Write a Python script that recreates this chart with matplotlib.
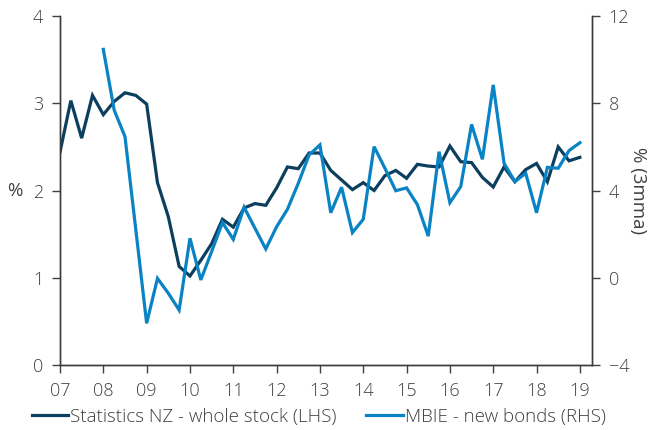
import matplotlib.pyplot as plt
import numpy as np

# Quarterly house price inflation, 2007Q1 - 2019Q1
years = [2007, 2008, 2009, 2010, 2011, 2012, 2013, 2014, 2015, 2016, 2017, 2018, 2019]
year_labels = ["07", "08", "09", "10", "11", "12", "13", "14", "15", "16", "17", "18", "19"]

stats_nz = [2.44, 3.03, 2.60, 3.09, 2.87, 3.02, 3.12, 3.09, 2.99, 2.09, 1.70, 1.13,
            1.02, 1.20, 1.39, 1.67, 1.58, 1.80, 1.85, 1.83, 2.03, 2.27, 2.25, 2.43,
            2.43, 2.23, 2.12, 2.01, 2.09, 2.00, 2.17, 2.23, 2.14, 2.30, 2.28, 2.27,
            2.51, 2.33, 2.32, 2.15, 2.04, 2.27, 2.10, 2.24, 2.31, 2.10, 2.50, 2.34,
            2.38]

# MBIE series starts 2008Q1
mbie = [10.47, 7.69, 6.47, 2.20, -2.09, -0.03, -0.71, -1.48, 1.81, -0.10, 1.20, 2.53,
        1.76, 3.23, 2.27, 1.32, 2.34, 3.14, 4.33, 5.63, 6.09, 2.98, 4.15, 2.07,
        2.68, 6.01, 5.02, 3.99, 4.12, 3.35, 1.91, 5.78, 3.44, 4.18, 7.03, 5.43,
        8.84, 5.25, 4.41, 4.79, 2.98, 5.06, 5.02, 5.83, 6.19]

x_stats = 2007 + 0.25 * np.arange(len(stats_nz))
x_mbie = 2008 + 0.25 * np.arange(len(mbie))

plt.rcParams["font.family"] = ["Open Sans", "DejaVu Sans"]
plt.rcParams["font.weight"] = "light"
text_col = "#404040"
spine_col = "#3a3a3a"
dark = "#0c3e5e"
light = "#0a83c4"
fs = 13.5

fig = plt.figure(figsize=(6.49, 4.30), dpi=100)
ax = fig.add_axes([60 / 649, 1 - 365 / 430, (592 - 60) / 649, (365 - 16) / 430])
ax2 = ax.twinx()

l1, = ax.plot(x_stats, stats_nz, color=dark, lw=2.3, solid_joinstyle="miter")
l2, = ax2.plot(x_mbie, mbie, color=light, lw=2.3, solid_joinstyle="miter")

ax.set_xlim(2007, 2019.28)
ax.set_ylim(0, 4)
ax2.set_ylim(-4, 12)
ax.set_yticks([0, 1, 2, 3, 4])
ax2.set_yticks([-4, 0, 4, 8, 12])
ax.set_xticks(years)
ax.set_xticklabels(year_labels)

for a in (ax, ax2):
    a.spines["top"].set_visible(False)
    for s in ("left", "right", "bottom"):
        a.spines[s].set_color(spine_col)
        a.spines[s].set_linewidth(1.0)
    a.tick_params(colors=text_col, labelsize=fs - 0.5, length=6, width=1.0,
                  direction="out", pad=6)

ax.set_ylabel("%", color=text_col, fontsize=fs, rotation=0, va="center", ha="center")
ax.yaxis.set_label_coords(-45 / 532, 0.5)
ax2.set_ylabel("% (3mma)", color=text_col, fontsize=fs, rotation=270,
               va="center", ha="center")
ax2.yaxis.set_label_coords(1 + 46 / 532, 0.5)

fig.legend([l1, l2], ["Statistics NZ - whole stock (LHS)", "MBIE - new bonds (RHS)"],
           loc="center left", bbox_to_anchor=(24 / 649, 1 - 417 / 430), ncol=2,
           frameon=False, fontsize=fs, handlelength=1.95, handletextpad=0.1,
           columnspacing=1.6, labelcolor=text_col, borderaxespad=0)

fig.savefig("out.png", dpi=100)
